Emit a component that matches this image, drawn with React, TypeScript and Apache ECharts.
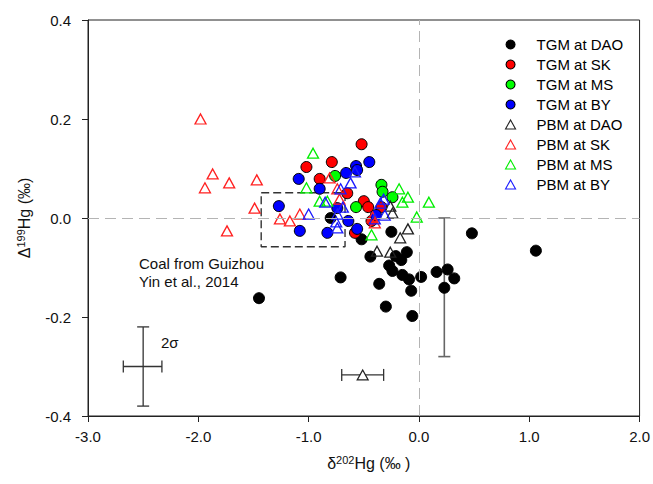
import React, { useEffect, useRef } from "react";
import * as echarts from "echarts";

const FONT = "Liberation Sans, Arial, sans-serif";

const TGM_DAO = [
  [-1.45, -0.162], [-0.80, 0.0], [-0.71, -0.120], [-0.52, -0.043], [-0.44, -0.078],
  [-0.36, -0.133], [-0.30, -0.179], [-0.25, -0.028], [-0.27, -0.096], [-0.24, -0.107],
  [-0.21, -0.077], [-0.16, -0.085], [-0.11, -0.069], [-0.15, -0.115], [-0.09, -0.124],
  [-0.07, -0.147], [-0.06, -0.198], [0.02, -0.119], [0.16, -0.109], [0.26, -0.104],
  [0.32, -0.122], [0.23, -0.141], [0.48, -0.031], [1.06, -0.066],
];
const TGM_SK = [
  [-1.02, 0.103], [-0.79, 0.113], [-0.90, 0.079], [-0.52, 0.149], [-0.65, 0.050],
  [-0.50, 0.034], [-0.46, 0.022], [-0.34, 0.022], [-0.43, -0.006], [-0.58, -0.030],
];
const TGM_MS = [[-0.76, 0.085], [-0.34, 0.067], [-0.33, 0.053], [-0.24, 0.042], [-0.57, 0.022]];
const TGM_BY = [
  [-1.27, 0.024], [-1.09, 0.079], [-0.90, 0.059], [-0.66, 0.091], [-0.57, 0.105],
  [-0.56, 0.097], [-0.45, 0.113], [-0.74, 0.020], [-1.08, -0.026], [-0.83, -0.030],
  [-0.64, -0.006], [-0.56, -0.022], [-0.39, 0.006],
];
const PBM_DAO = [[-0.26, 0.024], [-0.24, 0.010], [-0.10, -0.022], [-0.17, -0.040], [-0.38, -0.067], [-0.26, -0.069]];
const PBM_SK = [
  [-1.98, 0.200], [-1.87, 0.089], [-1.94, 0.061], [-1.72, 0.071], [-1.47, 0.077],
  [-1.49, 0.020], [-1.74, -0.026], [-1.26, -0.002], [-1.17, -0.006], [-1.08, 0.008],
  [-0.81, 0.081], [-0.74, 0.059], [-0.72, 0.038], [-0.40, -0.010], [-0.42, 0.002],
];
const PBM_MS = [
  [-0.96, 0.131], [-1.02, 0.061], [-0.90, 0.034], [-0.83, 0.034], [-0.18, 0.059],
  [-0.10, 0.042], [-0.15, 0.032], [0.09, 0.032], [-0.02, 0.002], [-0.43, -0.034],
];
const PBM_BY = [
  [-0.58, 0.093], [-0.62, 0.071], [-0.71, 0.059], [-0.85, 0.032], [-1.00, 0.008],
  [-0.69, 0.022], [-0.74, 0.008], [-0.75, -0.008], [-0.74, -0.020], [-0.32, 0.038],
  [-0.31, 0.006], [-0.40, -0.002], [-0.35, 0.030],
];

// [x, y, xLow, xHigh, yLow, yHigh]
const SIGMA_BAR = [-2.5, -0.30, -2.68, -2.33, -0.38, -0.22];
const PBM_REF = [-0.51, -0.317, -0.70, -0.32, -0.317, -0.317];
const COAL_BAR = [0.23, 0.0, 0.23, 0.23, -0.28, 0.0];
const COAL_BOX_X = [-1.43, -0.67];
const COAL_BOX_Y = [-0.058, 0.051];
const ZERO_X = 0;
const ZERO_Y = 0;

const X_TICKS = { min: -3, max: 2, interval: 1 };
const Y_TICKS = { min: -0.4, max: 0.4, interval: 0.2 };

const fmt = (v: number) => (Math.abs(v) < 1e-9 ? "0.0" : v.toFixed(1));

function errRender(color: string, width: number, cap: number) {
  return (_params: any, api: any) => {
    const x = api.value(0), y = api.value(1);
    const xl = api.value(2), xh = api.value(3), yl = api.value(4), yh = api.value(5);
    const style = { stroke: color, lineWidth: width };
    const children: any[] = [];
    const ln = (x1: number, y1: number, x2: number, y2: number) =>
      children.push({ type: "line", shape: { x1, y1, x2, y2 }, style });
    if (xl !== xh) {
      const a = api.coord([xl, y]);
      const b = api.coord([xh, y]);
      ln(a[0], a[1], b[0], b[1]);
      ln(a[0], a[1] - cap, a[0], a[1] + cap);
      ln(b[0], b[1] - cap, b[0], b[1] + cap);
    }
    if (yl !== yh) {
      const a = api.coord([x, yl]);
      const b = api.coord([x, yh]);
      ln(a[0], a[1], b[0], b[1]);
      ln(a[0] - cap, a[1], a[0] + cap, a[1]);
      ln(b[0] - cap, b[1], b[0] + cap, b[1]);
    }
    return { type: "group", children };
  };
}

const circle = (name: string, data: number[][], color: string) => ({
  type: "scatter",
  name,
  data,
  symbol: "circle",
  symbolSize: 11,
  itemStyle: { color, borderColor: "#000", borderWidth: 1, opacity: 1 },
  z: 3,
});
const tri = (name: string, data: number[][], color: string) => ({
  type: "scatter",
  name,
  data,
  symbol: "triangle",
  symbolSize: [11, 10],
  itemStyle: { color: "rgba(0,0,0,0)", borderColor: color, borderWidth: 1.3, opacity: 1 },
  z: 4,
});

const TRI_ICON = "path://M5,0L10,9L0,9Z";

export default function App() {
  const ref = useRef<HTMLDivElement>(null);
  useEffect(() => {
    if (!ref.current) return;
    const chart = echarts.init(ref.current, null, { renderer: "svg" });
    const boxData = [
      [COAL_BOX_X[0], COAL_BOX_Y[1]],
      [COAL_BOX_X[1], COAL_BOX_Y[1]],
      [COAL_BOX_X[1], COAL_BOX_Y[0]],
      [COAL_BOX_X[0], COAL_BOX_Y[0]],
      [COAL_BOX_X[0], COAL_BOX_Y[1]],
    ];
    const option: any = {
      animation: false,
      backgroundColor: "#fff",
      textStyle: { fontFamily: FONT },
      grid: {
        left: 88, right: 11, top: 20, bottom: 68,
        show: true, borderColor: "#222", borderWidth: 1, backgroundColor: "transparent",
      },
      xAxis: {
        type: "value",
        ...X_TICKS,
        axisLine: { show: true, onZero: false, lineStyle: { color: "#222", width: 1 } },
        axisTick: { show: true, length: 6, lineStyle: { color: "#222" } },
        splitLine: { show: false },
        axisLabel: { fontSize: 15, color: "#111", margin: 13, formatter: fmt, fontFamily: FONT },
        name: "{a|δ}{s|202}{a|Hg (‰ )}",
        nameLocation: "middle",
        nameGap: 38,
        nameTextStyle: {
          padding: [0, 0, 0, 10],
          rich: {
            a: { fontSize: 16, color: "#111", fontFamily: FONT },
            s: { fontSize: 11, color: "#111", fontFamily: FONT, padding: [0, 0, 8, 0] },
          },
        },
      },
      yAxis: {
        type: "value",
        ...Y_TICKS,
        axisLine: { show: true, onZero: false, lineStyle: { color: "#222", width: 1 } },
        axisTick: { show: true, length: 6, lineStyle: { color: "#222" } },
        splitLine: { show: false },
        axisLabel: { fontSize: 15, color: "#111", margin: 17, formatter: fmt, fontFamily: FONT },
        name: "{a|Δ}{s|199}{a|Hg (‰)}",
        nameLocation: "middle",
        nameRotate: 90,
        nameGap: 54,
        nameTextStyle: {
          rich: {
            a: { fontSize: 16, color: "#111", fontFamily: FONT },
            s: { fontSize: 11, color: "#111", fontFamily: FONT, padding: [0, 0, 8, 0] },
          },
        },
      },
      legend: {
        orient: "vertical",
        left: 505,
        top: 37,
        padding: 0,
        itemWidth: 42,
        itemHeight: 9,
        itemGap: 5,
        textStyle: { fontSize: 15, color: "#000", fontFamily: FONT },
        itemStyle: { borderWidth: 1.1, opacity: 1 },
        data: [
          { name: "TGM at DAO", icon: "circle" },
          { name: "TGM at SK", icon: "circle" },
          { name: "TGM at MS", icon: "circle" },
          { name: "TGM at BY", icon: "circle" },
          { name: "PBM at DAO", icon: TRI_ICON },
          { name: "PBM at SK", icon: TRI_ICON },
          { name: "PBM at MS", icon: TRI_ICON },
          { name: "PBM at BY", icon: TRI_ICON },
        ],
      },
      graphic: [
        {
          type: "text",
          left: 139,
          top: 254,
          style: {
            text: "Coal from Guizhou\nYin et al., 2014",
            font: `15px ${FONT}`,
            lineHeight: 18,
            fill: "#111",
          },
        },
        {
          type: "text",
          left: 161,
          top: 335,
          style: { text: "2σ", font: `15px ${FONT}`, fill: "#111" },
        },
      ],
      series: [
        {
          type: "line",
          name: "coal box",
          data: boxData,
          symbol: "none",
          lineStyle: { color: "#333", width: 1.4, type: [8, 4] },
          z: 1,
          markLine: {
            silent: true,
            symbol: "none",
            label: { show: false },
            lineStyle: { color: "#b4b4b4", width: 1, type: [11, 6] },
            data: [{ xAxis: ZERO_X }, { yAxis: ZERO_Y }],
          },
        },
        {
          type: "custom",
          name: "coal bar",
          data: [COAL_BAR],
          encode: { x: [0, 2, 3], y: [1, 4, 5] },
          renderItem: errRender("#666", 1.6, 6),
          z: 2,
        },
        {
          type: "custom",
          name: "err bars",
          data: [SIGMA_BAR, PBM_REF],
          encode: { x: [0, 2, 3], y: [1, 4, 5] },
          renderItem: errRender("#333", 1.3, 6),
          z: 2,
        },
        circle("TGM at DAO", TGM_DAO, "#000"),
        circle("TGM at SK", TGM_SK, "#ff0000"),
        circle("TGM at MS", TGM_MS, "#00ff00"),
        circle("TGM at BY", TGM_BY, "#0000ff"),
        tri("PBM at DAO", PBM_DAO, "#222"),
        tri("PBM at SK", PBM_SK, "#ff2020"),
        tri("PBM at MS", PBM_MS, "#00ee00"),
        tri("PBM at BY", PBM_BY, "#1a1aff"),
        {
          type: "scatter",
          name: "PBM reference",
          data: [[PBM_REF[0], PBM_REF[1]]],
          symbol: "triangle",
          symbolSize: [11, 10],
          itemStyle: { color: "#fff", borderColor: "#222", borderWidth: 1.2, opacity: 1 },
          z: 5,
        },
      ],
    };
    chart.setOption(option);
    return () => chart.dispose();
  }, []);
  return (
    <div
      ref={ref}
      style={{ position: "fixed", left: 0, top: 0, width: 653, height: 484, background: "#fff" }}
    />
  );
}
